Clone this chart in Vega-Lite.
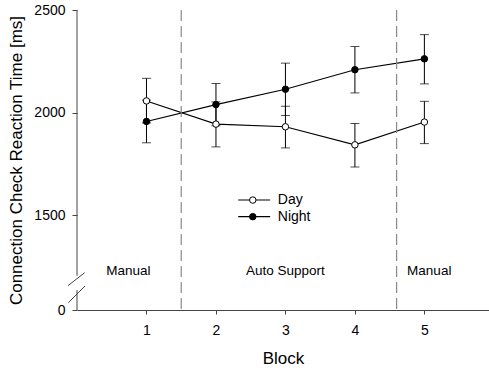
{
  "$schema": "https://vega.github.io/schema/vega-lite/v6.json",
  "autosize": {"type": "none"},
  "width": 412,
  "height": 300,
  "padding": {"left": 77, "top": 10, "right": 0, "bottom": 58},
  "config": {
    "font": "Liberation Sans",
    "view": {"stroke": null},
    "axis": {"grid": false, "labelColor": "black", "titleColor": "black", "titleFontWeight": "normal", "domainColor": "#444", "tickColor": "#444", "labelFont": "Liberation Sans", "titleFont": "Liberation Sans", "labelFontSize": 14, "titleFontSize": 17},
    "axisX": {"tickSize": 4, "labelPadding": 9, "titlePadding": 13, "labelFlush": false},
    "axisY": {"tickSize": 5, "labelPadding": 7, "titlePadding": 8, "domain": false},
    "text": {"fontWeight": "normal"}
  },
  "datasets": {
    "rt": [
      {"block": 1, "series": "Day", "mean": 2057, "lo": 1950, "hi": 2167},
      {"block": 2, "series": "Day", "mean": 1944, "lo": 1833, "hi": 2052},
      {"block": 3, "series": "Day", "mean": 1931, "lo": 1828, "hi": 2031},
      {"block": 4, "series": "Day", "mean": 1843, "lo": 1735, "hi": 1947},
      {"block": 5, "series": "Day", "mean": 1954, "lo": 1849, "hi": 2055},
      {"block": 1, "series": "Night", "mean": 1957, "lo": 1853, "hi": 2061},
      {"block": 2, "series": "Night", "mean": 2039, "lo": 1936, "hi": 2142},
      {"block": 3, "series": "Night", "mean": 2114, "lo": 1986, "hi": 2241},
      {"block": 4, "series": "Night", "mean": 2209, "lo": 2096, "hi": 2322},
      {"block": 5, "series": "Night", "mean": 2262, "lo": 2140, "hi": 2380}
    ],
    "one": [{}]
  },
  "data": {"name": "rt"},
  "layer": [
    {
      "mark": {"type": "line", "color": "black", "strokeWidth": 1.1},
      "encoding": {
        "x": {"field": "block", "type": "quantitative", "scale": {"domain": [0, 5.93], "nice": false, "zero": false}, "title": "Block",
          "axis": {"values": [1, 2, 3, 4, 5], "format": "d", "title": "Block"}},
        "y": {"field": "mean", "type": "quantitative", "scale": {"domain": [0, 1200, 2500], "range": [300, 266.8, 0], "nice": false, "zero": false}, "title": "Connection Check Reaction Time [ms]",
          "axis": {"values": [0, 1500, 2000, 2500], "format": "d", "domain": false, "title": "Connection Check Reaction Time [ms]"}},
        "detail": {"field": "series"}
      }
    },
    {
      "data": {"name": "one"},
      "mark": {"type": "rule", "color": "#888", "strokeWidth": 1.2, "strokeDash": [11, 5]},
      "encoding": {"x": {"datum": 1.5, "type": "quantitative"}}
    },
    {
      "data": {"name": "one"},
      "mark": {"type": "rule", "color": "#888", "strokeWidth": 1.2, "strokeDash": [11, 5]},
      "encoding": {"x": {"datum": 4.6, "type": "quantitative"}}
    },
    {
      "data": {"name": "one"},
      "mark": {"type": "rule", "color": "#444", "strokeWidth": 1},
      "encoding": {"x": {"datum": 0, "type": "quantitative"}, "y": {"datum": 1205, "type": "quantitative"}, "y2": {"datum": 2500}}
    },
    {
      "data": {"name": "one"},
      "mark": {"type": "rule", "color": "#444", "strokeWidth": 1},
      "encoding": {"x": {"datum": 0, "type": "quantitative"}, "y": {"datum": 0, "type": "quantitative"}, "y2": {"datum": 720}}
    },
    {
      "data": {"name": "one"},
      "mark": {"type": "rule", "color": "#444", "strokeWidth": 1},
      "encoding": {"x": {"datum": -0.13, "type": "quantitative"}, "x2": {"datum": 0.11}, "y": {"datum": 878, "type": "quantitative"}, "y2": {"datum": 1220}}
    },
    {
      "data": {"name": "one"},
      "mark": {"type": "rule", "color": "#444", "strokeWidth": 1},
      "encoding": {"x": {"datum": -0.125, "type": "quantitative"}, "x2": {"datum": 0.115}, "y": {"datum": 264, "type": "quantitative"}, "y2": {"datum": 867}}
    },
    {
      "mark": {"type": "errorbar", "ticks": {"size": 9, "color": "black", "strokeWidth": 1}, "rule": {"color": "black", "strokeWidth": 1}},
      "encoding": {
        "x": {"field": "block", "type": "quantitative", "title": "Block"},
        "y": {"field": "lo", "type": "quantitative", "title": "Connection Check Reaction Time [ms]"},
        "y2": {"field": "hi"}
      }
    },
    {
      "mark": {"type": "point", "shape": "circle", "filled": true, "size": 42, "stroke": "black", "strokeWidth": 1, "opacity": 1},
      "encoding": {
        "x": {"field": "block", "type": "quantitative", "title": "Block"},
        "y": {"field": "mean", "type": "quantitative", "title": "Connection Check Reaction Time [ms]"},
        "fill": {"field": "series", "type": "nominal", "scale": {"domain": ["Day", "Night"], "range": ["white", "black"]}, "legend": null}
      }
    },
    {
      "data": {"name": "one"},
      "mark": {"type": "rule", "color": "black", "strokeWidth": 1.1},
      "encoding": {"x": {"datum": 2.32, "type": "quantitative"}, "x2": {"datum": 2.78}, "y": {"datum": 1574, "type": "quantitative"}}
    },
    {
      "data": {"name": "one"},
      "mark": {"type": "rule", "color": "black", "strokeWidth": 1.1},
      "encoding": {"x": {"datum": 2.32, "type": "quantitative"}, "x2": {"datum": 2.78}, "y": {"datum": 1493, "type": "quantitative"}}
    },
    {
      "data": {"name": "one"},
      "mark": {"type": "point", "shape": "circle", "filled": true, "size": 42, "fill": "white", "stroke": "black", "strokeWidth": 1, "opacity": 1},
      "encoding": {"x": {"datum": 2.53, "type": "quantitative"}, "y": {"datum": 1574, "type": "quantitative"}}
    },
    {
      "data": {"name": "one"},
      "mark": {"type": "point", "shape": "circle", "filled": true, "size": 42, "fill": "black", "stroke": "black", "strokeWidth": 1, "opacity": 1},
      "encoding": {"x": {"datum": 2.53, "type": "quantitative"}, "y": {"datum": 1493, "type": "quantitative"}}
    },
    {
      "data": {"name": "one"},
      "mark": {"type": "text", "align": "left", "baseline": "middle", "fontSize": 14, "fill": "black", "fontWeight": "normal"},
      "encoding": {"x": {"datum": 2.89, "type": "quantitative"}, "y": {"datum": 1574, "type": "quantitative"}, "text": {"value": "Day"}}
    },
    {
      "data": {"name": "one"},
      "mark": {"type": "text", "align": "left", "baseline": "middle", "fontSize": 14, "fill": "black", "fontWeight": "normal"},
      "encoding": {"x": {"datum": 2.89, "type": "quantitative"}, "y": {"datum": 1493, "type": "quantitative"}, "text": {"value": "Night"}}
    },
    {
      "data": {"name": "one"},
      "mark": {"type": "text", "align": "center", "baseline": "middle", "fontSize": 13.5, "fill": "black", "fontWeight": "normal"},
      "encoding": {"x": {"datum": 0.74, "type": "quantitative"}, "y": {"datum": 1230, "type": "quantitative"}, "text": {"value": "Manual"}}
    },
    {
      "data": {"name": "one"},
      "mark": {"type": "text", "align": "center", "baseline": "middle", "fontSize": 13.5, "fill": "black", "fontWeight": "normal"},
      "encoding": {"x": {"datum": 3, "type": "quantitative"}, "y": {"datum": 1230, "type": "quantitative"}, "text": {"value": "Auto Support"}}
    },
    {
      "data": {"name": "one"},
      "mark": {"type": "text", "align": "center", "baseline": "middle", "fontSize": 13.5, "fill": "black", "fontWeight": "normal"},
      "encoding": {"x": {"datum": 5.07, "type": "quantitative"}, "y": {"datum": 1230, "type": "quantitative"}, "text": {"value": "Manual"}}
    }
  ]
}
